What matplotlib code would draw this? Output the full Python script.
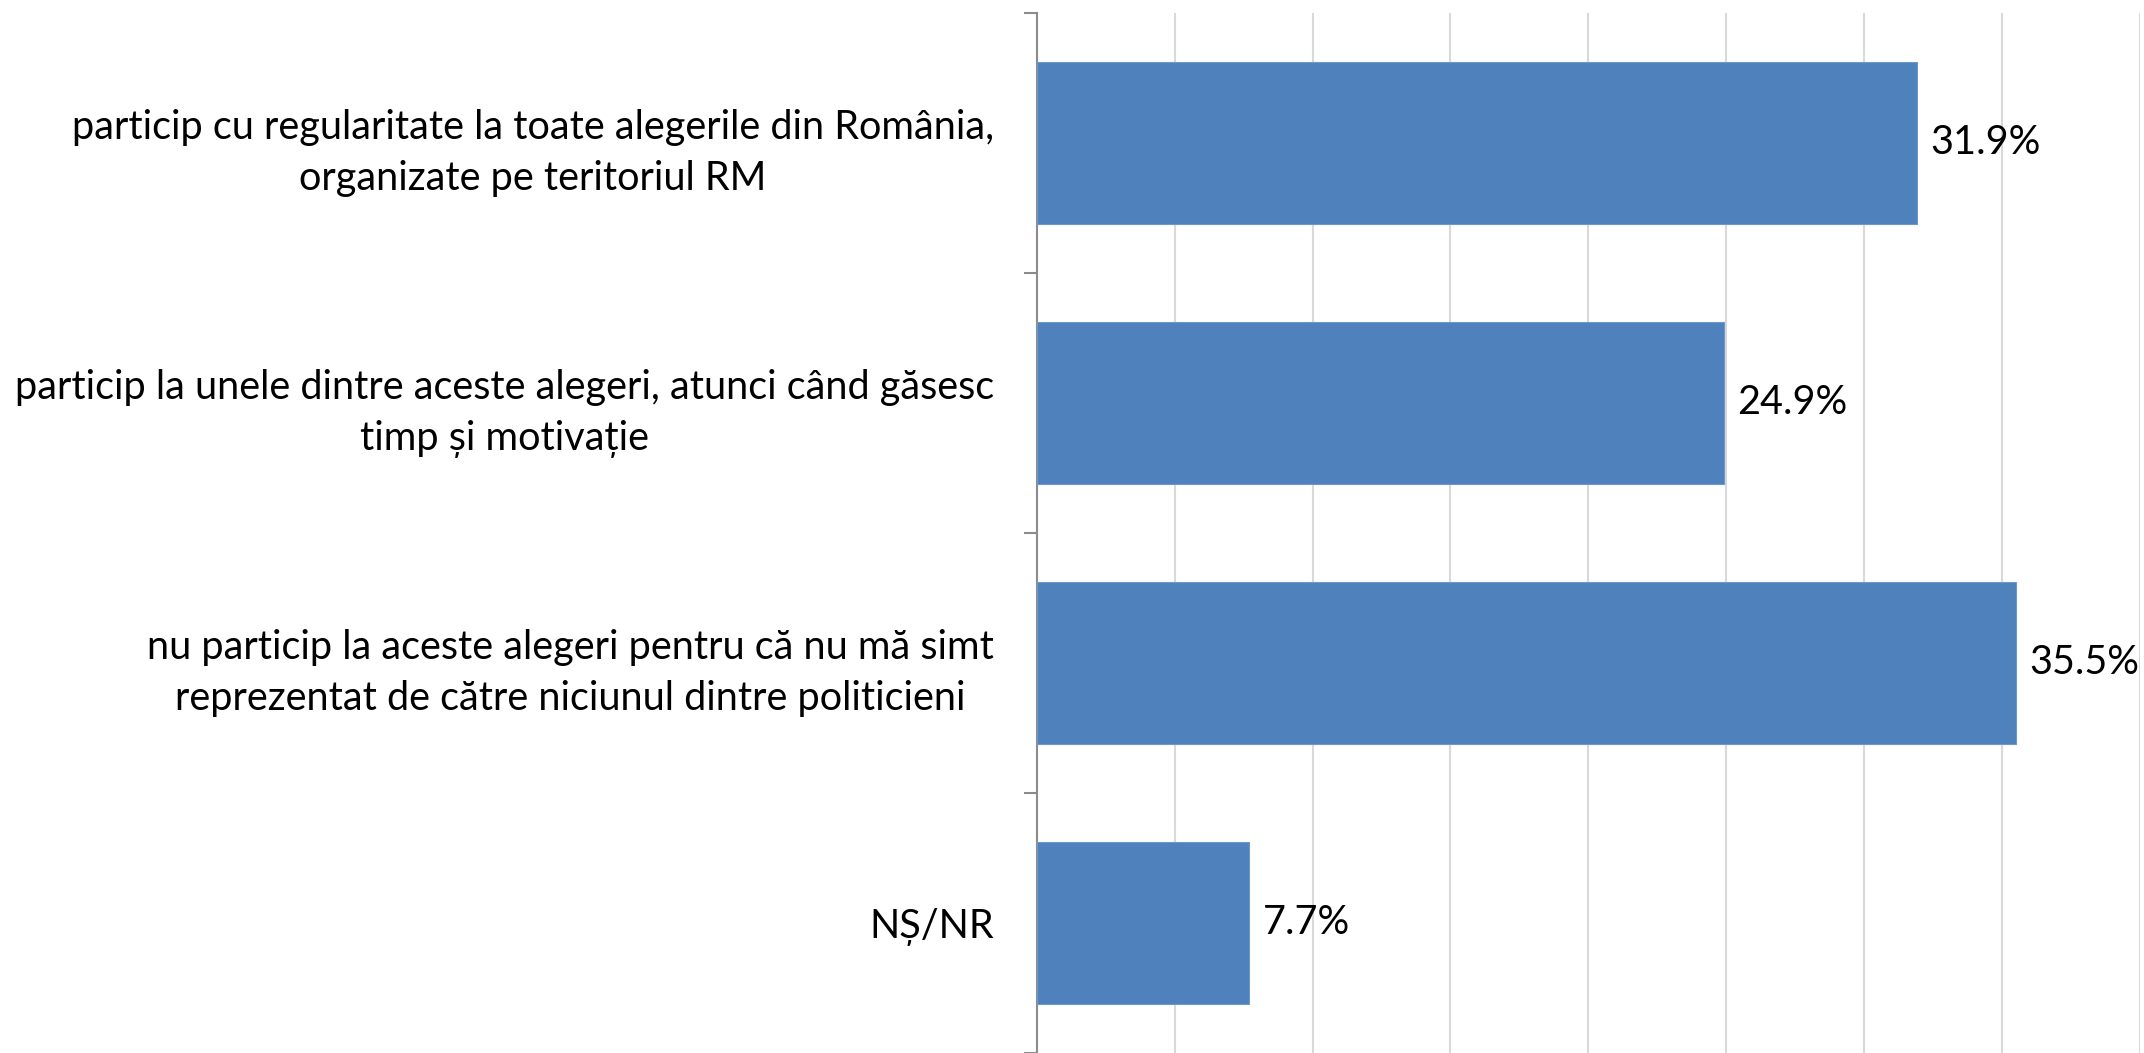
import matplotlib.pyplot as plt

categories = [
    'particip cu regularitate la toate alegerile din România,\norganizate pe teritoriul RM',
    'particip la unele dintre aceste alegeri, atunci când găsesc\ntimp și motivație',
    'nu particip la aceste alegeri pentru că nu mă simt\nreprezentat de către niciunul dintre politicieni',
    'NȘ/NR',
]
values = [31.9, 24.9, 35.5, 7.7]
value_labels = ['31.9%', '24.9%', '35.5%', '7.7%']

plt.rcParams['font.family'] = ['Lato', 'DejaVu Sans']

fig = plt.figure(figsize=(21.44, 10.53), dpi=100)
ax = fig.add_axes([1036.7 / 2144, 0, (2140 - 1036.7) / 2144, 1 - 13 / 1053])

ypos = list(range(len(values)))
ax.barh(ypos, values, height=0.62, color='#4f81bd', edgecolor='#6f97cc', linewidth=0.8, zorder=3)

for y, v, lab in zip(ypos, values, value_labels):
    ax.annotate(lab, (v, y), xytext=(10, 0), textcoords='offset points',
                va='center', ha='left', fontsize=28.5)

ax.set_xlim(0, 40)
ax.set_ylim(len(values) - 0.5, -0.5)
ax.set_xticks([5, 10, 15, 20, 25, 30, 35, 40])
ax.xaxis.grid(True, color='#d9d9d9', linewidth=1.5, zorder=0)
ax.tick_params(axis='x', length=0, labelbottom=False)

# band borders get the tick marks, labels sit on minor ticks in the middle
ax.set_yticks([-0.5, 0.5, 1.5, 2.5, 3.5])
ax.set_yticklabels([])
ax.tick_params(axis='y', which='major', length=9.5, width=1.5, color='#8c8c8c', direction='out')
ax.set_yticks(ypos, minor=True)
ax.set_yticklabels(categories, minor=True, fontsize=28.5)
ax.tick_params(axis='y', which='minor', length=0, pad=31)
for lbl in ax.get_yticklabels(minor=True):
    lbl.set_multialignment('center')
    lbl.set_linespacing(1.45)

for s in ['top', 'right', 'bottom']:
    ax.spines[s].set_visible(False)
ax.spines['left'].set_color('#8c8c8c')
ax.spines['left'].set_linewidth(1.5)

fig.savefig('out.png', dpi=100)
